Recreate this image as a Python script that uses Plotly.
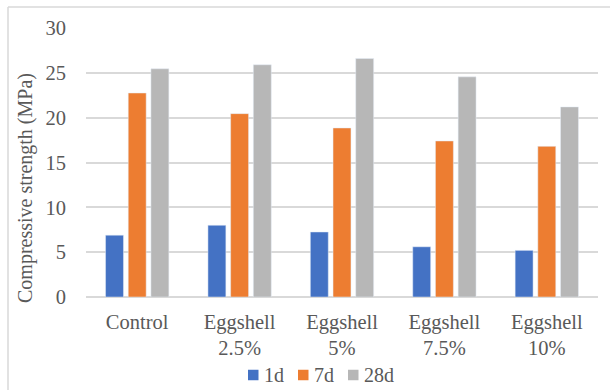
import plotly.graph_objects as go

# Compressive strength of mortar mixes with eggshell replacement
categories = ["Control", "Eggshell<br>2.5%", "Eggshell<br>5%", "Eggshell<br>7.5%", "Eggshell<br>10%"]
strength_1d = [6.9, 8.0, 7.25, 5.6, 5.2]
strength_7d = [22.75, 20.45, 18.85, 17.4, 16.8]
strength_28d = [25.45, 25.9, 26.6, 24.55, 21.2]
series_names = ["1d", "7d", "28d"]
series_colors = ["#4472C4", "#ED7D31", "#B7B7B7"]
y_ticks = [0, 5, 10, 15, 20, 25, 30]
y_title = "Compressive strength (MPa)"

text_color = "#595959"
grid_color = "#D9D9D9"

fig = go.Figure()
for name, values, color in zip(series_names, [strength_1d, strength_7d, strength_28d], series_colors):
    fig.add_trace(go.Bar(x=categories, y=values, name=name, marker_color=color))

W, H = 610, 390
ml, mr, mt, mb = 86, 12, 28, 93
pw, ph = W - ml - mr, H - mt - mb


def px(x):
    return (x - ml) / pw


def py(y):
    return (H - mb - y) / ph


fig.update_layout(
    width=W, height=H,
    font=dict(family="Liberation Serif", size=20, color=text_color),
    margin=dict(l=ml, r=mr, t=mt, b=mb, autoexpand=False),
    plot_bgcolor="white",
    barmode="group", bargap=0.335, bargroupgap=0.21,
    showlegend=False,
    xaxis=dict(showgrid=False, zeroline=False, ticklabelstandoff=10,
               tickfont=dict(family="Liberation Serif", size=20.5, color=text_color)),
    yaxis=dict(
        range=[0, 30], tickvals=y_ticks, gridcolor=grid_color, gridwidth=1.5,
        zerolinecolor=grid_color, zerolinewidth=1.5, ticklabelstandoff=19,
        tickfont=dict(family="Liberation Serif", size=20.5, color=text_color),
    ),
)

# rotated value-axis title, centred on the chart body
fig.add_annotation(xref="paper", yref="paper", x=px(25), y=py(188), xanchor="center", yanchor="middle",
                   text=y_title, textangle=-90, showarrow=False)

# legend row below the categories: colour swatch followed by its label
legend_swatch_x = [248, 298, 348]
legend_y = 375
for name, color, sx in zip(series_names, series_colors, legend_swatch_x):
    fig.add_shape(type="rect", xref="paper", yref="paper",
                  x0=px(sx), x1=px(sx + 10.5), y0=py(legend_y - 5.25), y1=py(legend_y + 5.25),
                  fillcolor=color, line_width=0)
    fig.add_annotation(xref="paper", yref="paper", x=px(sx + 14), y=py(legend_y),
                       xanchor="left", yanchor="middle", text=name, showarrow=False)

# chart-area border (left and top edges fall inside the frame)
x_left = px(8)
y_top = py(7)
fig.add_shape(type="line", xref="paper", yref="paper", x0=x_left, x1=px(W + 5), y0=y_top, y1=y_top,
              line=dict(color=grid_color, width=1.5))
fig.add_shape(type="line", xref="paper", yref="paper", x0=x_left, x1=x_left, y0=y_top, y1=py(H + 5),
              line=dict(color=grid_color, width=1.5))

fig.write_html("out.html")
